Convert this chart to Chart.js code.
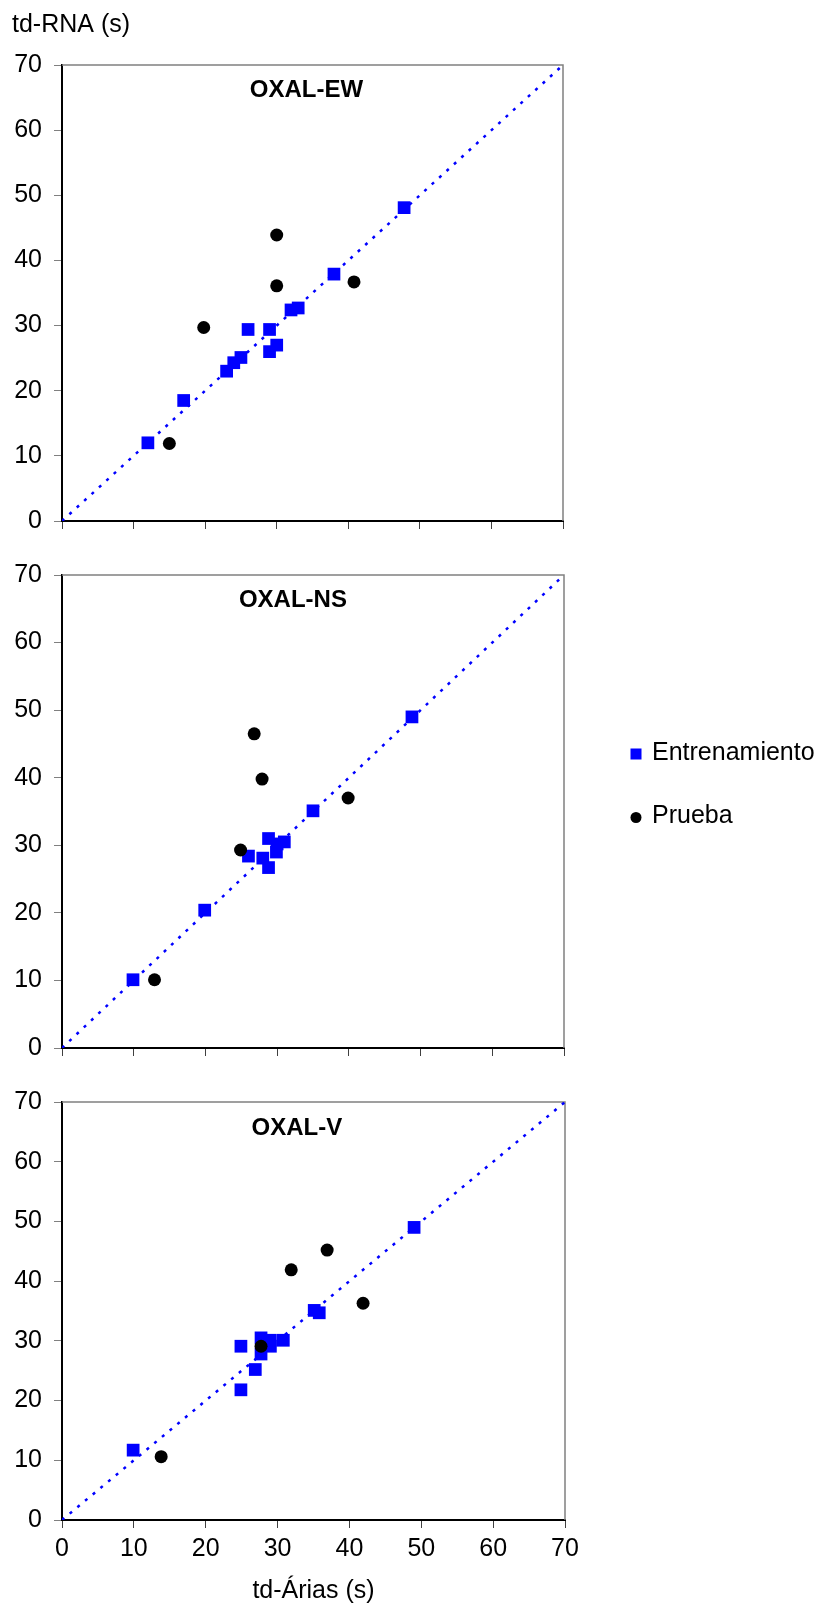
<!DOCTYPE html>
<html>
<head>
<meta charset="utf-8">
<script src="https://cdn.jsdelivr.net/npm/chart.js@4.4.0/dist/chart.umd.min.js"></script>
<style>
    body { margin: 0; background: #fff; }
    #wrap { position: relative; width: 825px; height: 1608px; }
    canvas { position: absolute; left: 0; }
</style>
</head>
<body>
<div id="wrap">
    <canvas id="chartEW" width="825" height="548" style="top:0px"></canvas>
    <canvas id="chartNS" width="825" height="527" style="top:548px"></canvas>
    <canvas id="chartV" width="825" height="533" style="top:1075px"></canvas>
</div>
<script>
// axis range (td-Árias vs td-RNA, seconds)
var axisMin = 0;
var axisMax = 70;
var axisStep = 10;

// 1:1 reference line
var lineX = [0, 70];
var lineY = [0, 70];

// OXAL-EW
var ewTrainX = [12, 17, 23, 24, 25, 26, 29, 29, 30, 32, 33, 38, 47.8];
var ewTrainY = [12, 18.5, 23, 24.3, 25.1, 29.4, 29.4, 26, 27, 32.4, 32.7, 37.9, 48.1];
var ewTestX = [15, 19.8, 30, 30, 40.8];
var ewTestY = [11.9, 29.7, 43.9, 36.1, 36.7];

// OXAL-NS
var nsTrainX = [9.9, 19.9, 26, 28, 28.8, 28.8, 29.9, 30, 31, 35, 48.8];
var nsTrainY = [10.1, 20.4, 28.4, 28.1, 26.7, 31, 29, 30.2, 30.5, 35.1, 49];
var nsTestX = [12.9, 24.9, 26.8, 27.9, 39.9];
var nsTestY = [10.1, 29.3, 46.5, 39.8, 37];

// OXAL-V
var vTrainX = [9.9, 24.9, 24.9, 26.9, 27.7, 27.7, 29, 29, 30.8, 35.1, 35.8, 49];
var vTrainY = [11.7, 21.8, 29.1, 25.2, 27.8, 30.5, 29.1, 30.1, 30.1, 35.1, 34.7, 49];
var vTestX = [13.8, 27.7, 31.9, 36.9, 41.9];
var vTestY = [10.6, 29.1, 41.9, 45.2, 36.3];

var seriesNames = ['Entrenamiento', 'Prueba'];
var yTitle = 'td-RNA (s)';
var xTitle = 'td-Árias (s)';

Chart.defaults.font.family = '"Liberation Sans", Arial, sans-serif';
Chart.defaults.font.size = 25;
Chart.defaults.color = '#000';

function toPoints(xs, ys) {
    return xs.map(function (x, i) { return { x: x, y: ys[i] }; });
}

function drawMarker(ctx, style, x, y) {
    if (style === 'rect') {
        ctx.fillStyle = '#0000FF';
        ctx.fillRect(x - 5.5, y - 5.5, 11, 11);
    } else {
        ctx.fillStyle = '#000';
        ctx.beginPath();
        ctx.arc(x, y, 5.5, 0, Math.PI * 2);
        ctx.fill();
    }
}

// gray frame on top/right, panel title and loose texts
var frameAndText = {
    id: 'frameAndText',
    beforeDatasetsDraw: function (chart) {
        var a = chart.chartArea, ctx = chart.ctx;
        ctx.save();
        ctx.strokeStyle = '#808080';
        ctx.lineWidth = 1.5;
        ctx.beginPath();
        ctx.moveTo(a.left, a.top);
        ctx.lineTo(a.right, a.top);
        ctx.lineTo(a.right, a.bottom);
        ctx.stroke();
        ctx.restore();
    },
    afterDraw: function (chart, args, opts) {
        var a = chart.chartArea, ctx = chart.ctx;
        ctx.save();
        ctx.textBaseline = 'middle';
        ctx.textAlign = 'center';
        ctx.fillStyle = '#000';
        ctx.font = 'bold 24px "Liberation Sans", Arial, sans-serif';
        ctx.fillText(opts.title, a.left + opts.titleX * (a.right - a.left), a.top + opts.titleDy);
        ctx.textAlign = 'left';
        ctx.font = '25px "Liberation Sans", Arial, sans-serif';
        (opts.texts || []).forEach(function (t) {
            if (t.marker) drawMarker(ctx, t.marker, t.mx, t.my);
            ctx.fillStyle = '#000';
            ctx.fillText(t.text, t.x, t.y);
        });
        ctx.restore();
    }
};

function createPanel(canvasId, p) {
    var ctx = document.getElementById(canvasId).getContext('2d');

    var data = {
        datasets: [
            {
                label: seriesNames[1],
                data: toPoints(p.testX, p.testY),
                pointStyle: 'circle',
                pointRadius: 6.5,
                borderWidth: 0,
                backgroundColor: '#000',
                order: 0
            },
            {
                label: seriesNames[0],
                data: toPoints(p.trainX, p.trainY),
                pointStyle: 'rect',
                pointRadius: 9,
                borderWidth: 0,
                backgroundColor: '#0000FF',
                order: 1
            },
            {
                label: '1:1',
                data: toPoints(lineX, lineY),
                showLine: true,
                pointRadius: 0,
                borderColor: '#0000FF',
                borderWidth: 2.5,
                borderDash: [3, 7],
                order: 2
            }
        ]
    };

    var options = {
        responsive: false,
        animation: false,
        layout: { padding: p.padding },
        scales: {
            x: {
                type: 'linear',
                min: axisMin,
                max: axisMax,
                ticks: { stepSize: axisStep, display: !!p.xTitle, padding: 6, color: '#000' },
                grid: { drawOnChartArea: false, drawTicks: true, tickLength: 8, tickColor: '#404040' },
                border: { display: true, color: '#000', width: 2 },
                title: { display: !!p.xTitle, text: p.xTitle, color: '#000', padding: { top: 0, bottom: 2 } },
                afterFit: function (s) { s.height = p.xHeight; }
            },
            y: {
                type: 'linear',
                min: axisMin,
                max: axisMax,
                ticks: { stepSize: axisStep, padding: 12, color: '#000' },
                grid: { drawOnChartArea: false, drawTicks: true, tickLength: 8, tickColor: '#808080' },
                border: { display: true, color: '#000', width: 2 },
                afterFit: function (s) { s.width = 62; }
            }
        },
        plugins: {
            legend: { display: false },
            tooltip: { enabled: false },
            frameAndText: { title: p.title, titleX: p.titleX, titleDy: p.titleDy, texts: p.texts }
        }
    };

    return new Chart(ctx, { type: 'scatter', data: data, options: options, plugins: [frameAndText] });
}

createPanel('chartEW', {
    trainX: ewTrainX, trainY: ewTrainY, testX: ewTestX, testY: ewTestY,
    title: 'OXAL-EW', titleX: 0.488, titleDy: 25,
    padding: { top: 65, bottom: 11, left: 0, right: 262 },
    xHeight: 10,
    texts: [{ text: yTitle, x: 12, y: 25 }]
});

createPanel('chartNS', {
    trainX: nsTrainX, trainY: nsTrainY, testX: nsTestX, testY: nsTestY,
    title: 'OXAL-NS', titleX: 0.46, titleDy: 25,
    padding: { top: 17, bottom: 10, left: 0, right: 261 },
    xHeight: 10,
    texts: [
        { text: seriesNames[0], x: 652, y: 205, marker: 'rect', mx: 636, my: 206 },
        { text: seriesNames[1], x: 652, y: 268, marker: 'circle', mx: 636, my: 269.5 }
    ]
});

createPanel('chartV', {
    trainX: vTrainX, trainY: vTrainY, testX: vTestX, testY: vTestY,
    title: 'OXAL-V', titleX: 0.467, titleDy: 26.5,
    padding: { top: 18, bottom: 0, left: 0, right: 260 },
    xHeight: 88,
    xTitle: xTitle,
    texts: []
});
</script>
</body>
</html>
